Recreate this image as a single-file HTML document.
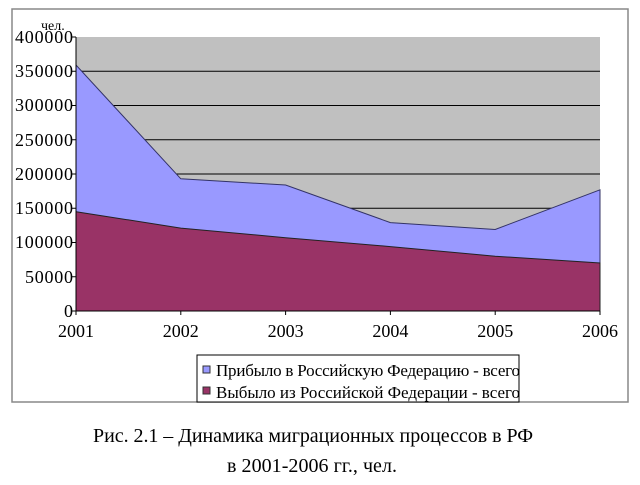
<!DOCTYPE html>
<html><head><meta charset="utf-8"><style>
body{margin:0;background:#fff;width:640px;height:480px;overflow:hidden;font-family:"Liberation Serif",serif}
</style></head><body>
<svg width="640" height="480" xmlns="http://www.w3.org/2000/svg" font-family="Liberation Serif, serif">
<rect x="12" y="9" width="616" height="393" fill="#fff" stroke="#888" stroke-width="1.5"/>
<rect x="76" y="37" width="524" height="274" fill="#c0c0c0"/>
<g stroke="#000" stroke-width="1">
<line x1="76" y1="71.25" x2="600" y2="71.25"/><line x1="76" y1="105.5" x2="600" y2="105.5"/>
<line x1="76" y1="139.75" x2="600" y2="139.75"/><line x1="76" y1="174" x2="600" y2="174"/>
<line x1="76" y1="208.25" x2="600" y2="208.25"/>
</g>
<polygon fill="#9999ff" stroke="#333366" stroke-width="1" points="76,311 76,65 180.8,178.8 285.6,185 390.4,222.6 495.2,229.5 600,189.8 600,311"/>
<polygon fill="#993366" stroke="#222" stroke-width="1" points="76,311 76,211.7 180.8,228.1 285.6,237.7 390.4,246.6 495.2,256.2 600,263 600,311"/>
<g stroke="#000"><line x1="76" y1="37" x2="76" y2="311"/><line x1="76" y1="311" x2="600" y2="311"/>
<line x1="72" y1="37" x2="76" y2="37"/><line x1="72" y1="71.25" x2="76" y2="71.25"/><line x1="72" y1="105.5" x2="76" y2="105.5"/><line x1="72" y1="139.75" x2="76" y2="139.75"/><line x1="72" y1="174" x2="76" y2="174"/><line x1="72" y1="208.25" x2="76" y2="208.25"/><line x1="72" y1="242.5" x2="76" y2="242.5"/><line x1="72" y1="276.75" x2="76" y2="276.75"/><line x1="72" y1="311" x2="76" y2="311"/>
<line x1="76" y1="311" x2="76" y2="315"/><line x1="180.8" y1="311" x2="180.8" y2="315"/><line x1="285.6" y1="311" x2="285.6" y2="315"/><line x1="390.4" y1="311" x2="390.4" y2="315"/><line x1="495.2" y1="311" x2="495.2" y2="315"/><line x1="600" y1="311" x2="600" y2="315"/></g>
<g font-size="18" text-anchor="end" fill="#000">
<text x="73" y="43" textLength="58">400000</text><text x="73" y="77" textLength="58">350000</text><text x="73" y="111" textLength="58">300000</text><text x="73" y="146" textLength="58">250000</text><text x="73" y="180" textLength="58">200000</text><text x="73" y="214" textLength="58">150000</text><text x="73" y="248" textLength="58">100000</text><text x="73" y="283" textLength="48">50000</text><text x="73" y="317">0</text>
</g>
<text x="41" y="30" font-size="14">чел.</text>
<g font-size="18" text-anchor="middle">
<text x="76" y="337">2001</text><text x="180.8" y="337">2002</text><text x="285.6" y="337">2003</text><text x="390.4" y="337">2004</text><text x="495.2" y="337">2005</text><text x="600" y="337">2006</text>
</g>
<rect x="197" y="355" width="322" height="47" fill="#fff" stroke="#000"/>
<rect x="203" y="366" width="7" height="7" fill="#9999ff" stroke="#333"/>
<rect x="203" y="387" width="7" height="7" fill="#993366" stroke="#333"/>
<g font-size="17"><text x="216" y="376" textLength="304">Прибыло в Российскую Федерацию - всего</text>
<text x="216" y="398" textLength="304">Выбыло из Российской Федерации - всего</text></g>
<g font-size="20" text-anchor="middle"><text x="313" y="442" textLength="440">Рис. 2.1 – Динамика миграционных процессов в РФ</text>
<text x="312" y="472" textLength="170">в 2001-2006 гг., чел.</text></g>
</svg>
</body></html>
